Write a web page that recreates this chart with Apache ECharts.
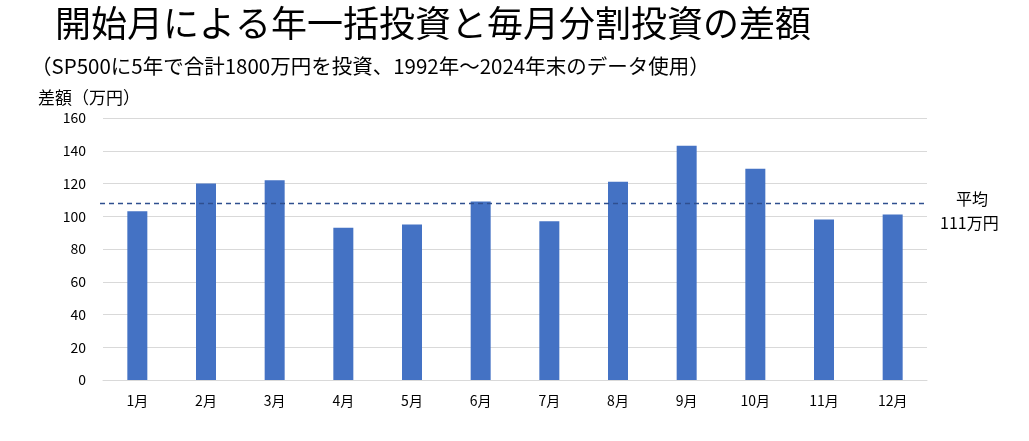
<!DOCTYPE html>
<html><head><meta charset="utf-8">
<script src="https://cdn.jsdelivr.net/npm/echarts@6/dist/echarts.min.js"></script>
<style>html,body{margin:0;background:#fff}#c{width:1029px;height:441px}</style>
</head><body><div id="c"></div>
<script>
const months = ['1月','2月','3月','4月','5月','6月','7月','8月','9月','10月','11月','12月'];
const diffs = [103, 120, 122, 93, 95, 109, 97, 121, 143, 129, 98, 101];
const avgLine = 108;
const yTicks = {min: 0, max: 160, interval: 20};

const chart = echarts.init(document.getElementById('c'));
const font = '"Noto Sans CJK JP", sans-serif';
chart.setOption({
  animation: false,
  textStyle: {fontFamily: font},
  title: [
    {text: '開始月による年一括投資と毎月分割投資の差額', left: 50, top: 0,
     textStyle: {fontSize: 36, fontWeight: 'normal', color: '#000', fontFamily: font}},
    {text: '（SP500に5年で合計1800万円を投資、1992年～2024年末のデータ使用）', left: 26, top: 51,
     textStyle: {fontSize: 20.5, fontWeight: 'normal', color: '#000', fontFamily: font}},
    {text: '差額（万円）', left: 33, top: 84,
     textStyle: {fontSize: 17, fontWeight: 'normal', color: '#000', fontFamily: font}},
    {text: '平均', left: 951, top: 186,
     textStyle: {fontSize: 16, fontWeight: 'normal', color: '#000', fontFamily: font}},
    {text: '111万円', left: 935, top: 210,
     textStyle: {fontSize: 16, fontWeight: 'normal', color: '#000', fontFamily: font}}
  ],
  grid: {left: 103, right: 102, top: 118, bottom: 61},
  xAxis: {
    type: 'category', data: months,
    axisLine: {lineStyle: {color: '#d9d9d9'}},
    axisTick: {show: false},
    axisLabel: {color: '#000', fontSize: 14, margin: 14}
  },
  yAxis: {
    type: 'value', ...yTicks,
    axisLine: {show: false}, axisTick: {show: false},
    splitLine: {lineStyle: {color: '#d9d9d9'}},
    axisLabel: {color: '#000', fontSize: 14, margin: 17}
  },
  series: [{
    type: 'bar', data: diffs, barWidth: 20,
    itemStyle: {color: '#4472c4'},
    markLine: {
      silent: true, symbol: 'none', label: {show: false},
      lineStyle: {color: '#2f4f8f', type: [5, 4], width: 1.3},
      data: [[{x: 100, yAxis: avgLine}, {x: 927, yAxis: avgLine}]]
    }
  }]
});
</script></body></html>
